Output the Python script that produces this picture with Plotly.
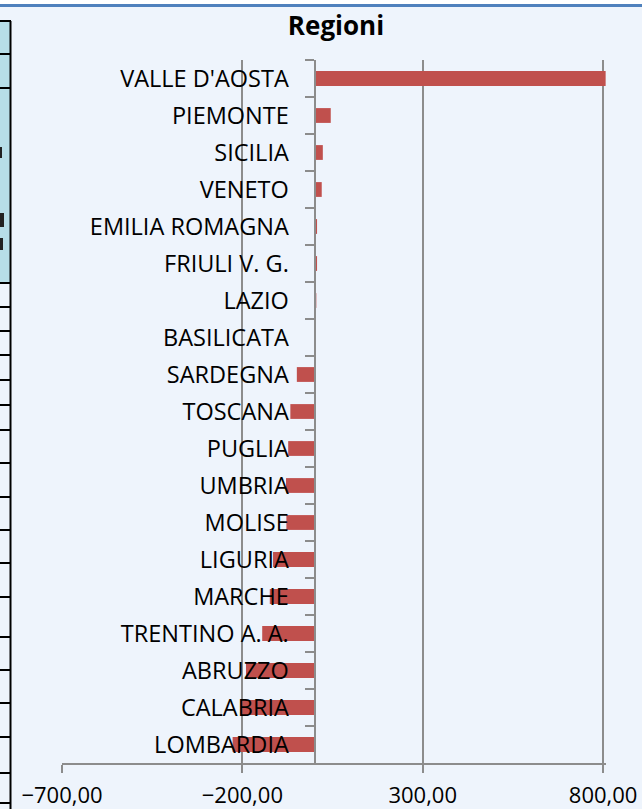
import plotly.graph_objects as go

regions = ["VALLE D'AOSTA", "PIEMONTE", "SICILIA", "VENETO", "EMILIA ROMAGNA",
           "FRIULI V. G.", "LAZIO", "BASILICATA", "SARDEGNA", "TOSCANA", "PUGLIA",
           "UMBRIA", "MOLISE", "LIGURIA", "MARCHE", "TRENTINO A. A.", "ABRUZZO",
           "CALABRIA", "LOMBARDIA"]
values = [807, 45, 23, 20, 7, 7, 5, 0, -49, -67, -73, -79, -78, -115, -124,
          -145, -190, -203, -227]
x_ticks = [-700, -200, 300, 800]
title_text = "Regioni"

W, H = 642, 809
XMIN, XMAX = -700, 808
PX_L, PX_R, PX_T, PX_B = 62, 606, 60, 763

def px(x):
    return x / W

def py(y):
    return 1 - y / H

x_dom = [px(PX_L), px(PX_R)]
y_dom = [py(PX_B), py(PX_T)]
zero_pos = x_dom[0] + (0 - XMIN) / (XMAX - XMIN) * (x_dom[1] - x_dom[0])

GRID = "#8c8c8c"
BG = "#EEF4FC"
FONT = "Open Sans"

fig = go.Figure()
fig.add_trace(go.Bar(
    y=regions, x=values, orientation="h",
    marker=dict(color="#C0504D", line=dict(width=0)),
    width=0.4, hoverinfo="x+y",
))

shapes = []
# top blue border with white strip above
shapes.append(dict(type="rect", xref="paper", yref="paper", x0=0, x1=1,
                   y0=py(4), y1=1, fillcolor="white", line=dict(width=0), layer="above"))
shapes.append(dict(type="line", xref="paper", yref="paper", x0=0, x1=1,
                   y0=py(5.5), y1=py(5.5), line=dict(color="#4F81BD", width=3), layer="above"))
# spreadsheet fragment on the left
shapes.append(dict(type="rect", xref="paper", yref="paper", x0=0, x1=px(10),
                   y0=py(283), y1=py(21), fillcolor="#B7DEE8", line=dict(width=0), layer="above"))
shapes.append(dict(type="line", xref="paper", yref="paper", x0=px(10.5), x1=px(10.5),
                   y0=0, y1=py(21), line=dict(color="black", width=2), layer="above"))
row_lines = [21, 54, 88, 283, 307, 331, 355, 380, 405, 430, 463, 497, 530, 563,
             597, 637, 670, 703, 737, 773, 803]
for r in row_lines:
    shapes.append(dict(type="line", xref="paper", yref="paper", x0=0, x1=px(11),
                       y0=py(r), y1=py(r), line=dict(color="black", width=2), layer="above"))
# clipped glyph fragments of the cell text behind the chart
for x1, ya, yb in [(2, 147, 158), (4, 213, 227), (3, 238, 250)]:
    shapes.append(dict(type="rect", xref="paper", yref="paper", x0=0, x1=px(x1),
                       y0=py(yb), y1=py(ya), fillcolor="#222222", line=dict(width=0),
                       layer="above"))

fig.update_layout(
    width=W, height=H,
    margin=dict(l=0, r=0, t=0, b=0, autoexpand=False),
    paper_bgcolor=BG, plot_bgcolor=BG,
    showlegend=False,
    separators=",.",
    title=dict(text=title_text, x=px(336), y=py(26), xanchor="center", yanchor="middle",
               xref="paper", yref="paper",
               font=dict(family=FONT, size=26, color="black", weight="bold")),
    xaxis=dict(domain=x_dom, range=[XMIN, XMAX], tickvals=x_ticks, tickformat=".2f",
               showgrid=True, gridcolor=GRID, gridwidth=1.5, zeroline=False,
               showline=True, linecolor=GRID, linewidth=2,
               ticks="outside", ticklen=8, tickcolor=GRID, tickwidth=2,
               ticklabelstandoff=4,
               tickfont=dict(family=FONT, size=22, color="black"),
               automargin=False, fixedrange=True),
    yaxis=dict(domain=y_dom, anchor="free", position=zero_pos,
               autorange="reversed", type="category",
               showgrid=False, zeroline=False,
               showline=True, linecolor=GRID, linewidth=2,
               ticks="outside", ticklen=9, tickcolor=GRID, tickwidth=2,
               tickson="boundaries", ticklabelstandoff=20,
               tickfont=dict(family=FONT, size=23.5, color="black"),
               automargin=False, fixedrange=True),
    shapes=shapes,
)

fig.write_html("out.html", config={"displayModeBar": False},
               post_script="document.body.style.margin='0';document.body.style.overflow='hidden';")
